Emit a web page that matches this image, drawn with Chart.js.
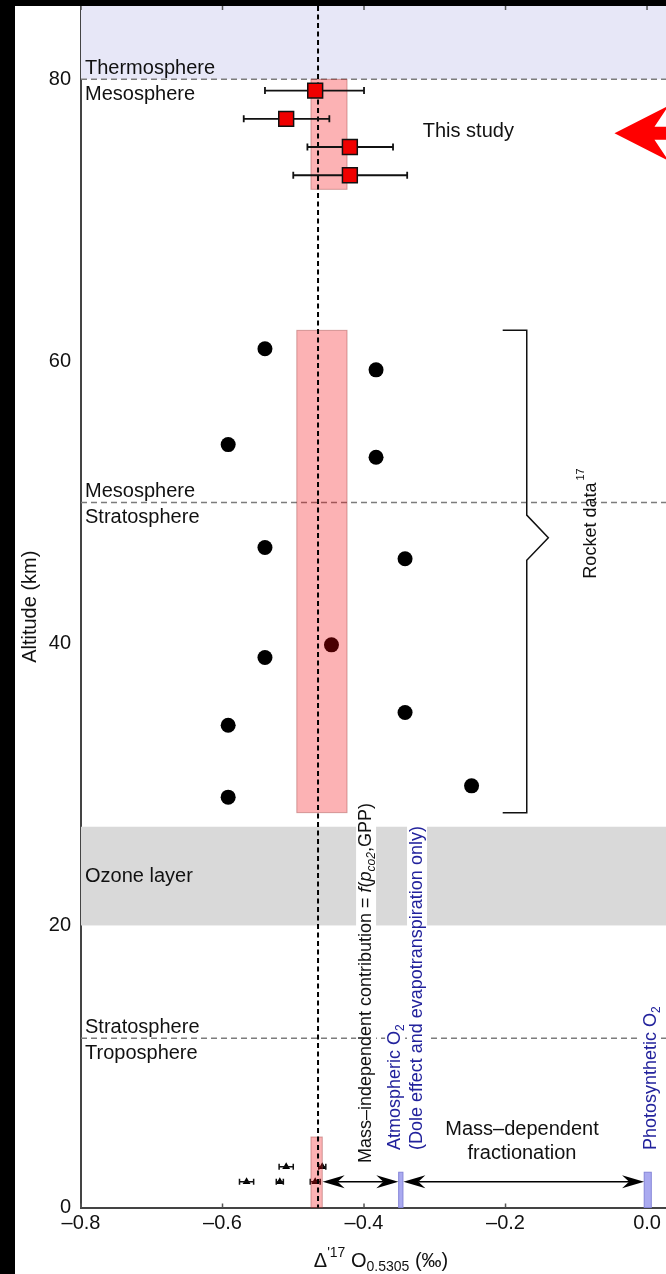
<!DOCTYPE html>
<html>
<head>
<meta charset="utf-8">
<script src="https://cdn.jsdelivr.net/npm/chart.js@4"></script>
<style>
  html, body { margin: 0; padding: 0; background: #000; width: 666px; height: 1274px; overflow: hidden; }
  #wrap { position: absolute; left: 15px; top: 6px; width: 651px; height: 1268px; background: #fff; }
  canvas { display: block; }
</style>
</head>
<body>
<div id="wrap"><canvas id="c" width="651" height="1268"></canvas></div>
<script>
const FONT = "'Liberation Sans', Arial, Helvetica, sans-serif";
Chart.defaults.font.family = FONT;
Chart.defaults.color = '#111';

// Axis ticks
const xTicks = [-0.8, -0.6, -0.4, -0.2, 0.0];
const yTicks = [0, 20, 40, 60, 80];

// Rocket samples (Δ'17O, altitude km)
const rocketDelta = [-0.540, -0.383, -0.592, -0.383, -0.540, -0.342, -0.446, -0.540, -0.342, -0.592, -0.248, -0.592];
const rocketAlt   = [60.9, 59.4, 54.1, 53.2, 46.8, 46.0, 39.9, 39.0, 35.1, 34.2, 29.9, 29.1];

// This study: mesospheric samples with 2σ ranges
const studyDelta = [-0.469, -0.510, -0.420, -0.420];
const studyAlt   = [79.2, 77.2, 75.2, 73.2];
const studyLow   = [-0.540, -0.570, -0.480, -0.500];
const studyHigh  = [-0.400, -0.449, -0.359, -0.339];

// Ground-level atmospheric O2 measurements
const groundDelta = [-0.566, -0.519, -0.510, -0.469, -0.459];
const groundAlt   = [1.83, 1.83, 2.89, 1.83, 2.89];
const groundErr   = [0.010, 0.005, 0.010, 0.007, 0.005];

// Atmospheric layers
const layerBounds = [80, 50, 12];
const layerAbove  = ['Thermosphere', 'Mesosphere', 'Stratosphere'];
const layerBelow  = ['Mesosphere', 'Stratosphere', 'Troposphere'];
const ozoneLayer  = [20, 27];

// Mean ranges of each data group
const studyBandX  = [-0.475, -0.424];
const studyBandY  = [72.2, 80];
const rocketBandX = [-0.495, -0.424];
const rocketBandY = [28.0, 62.2];
const groundBandX = [-0.475, -0.459];
const groundBandY = [0, 5];
const meanDelta   = -0.465;

// Reference end-members and fractionation ranges
const atmosBarX = [-0.351, -0.345];
const photoBarX = [-0.004, 0.006];
const refBarTop = 2.5;
const arrowAlt  = 1.83;
const mifArrow  = [-0.4585, -0.3515];
const mdfArrow  = [-0.3444, -0.0042];

const pts = (xs, ys) => xs.map((v, i) => ({ x: v, y: ys[i] }));

function runWidth(ctx, segs) {
  let w = 0;
  for (const s of segs) { ctx.font = s.font; w += ctx.measureText(s.t).width; }
  return w;
}
function drawRun(ctx, segs, x0, y0, color) {
  let x = x0;
  for (const s of segs) {
    ctx.font = s.font;
    ctx.fillStyle = s.color || color;
    ctx.fillText(s.t, x, y0 + (s.dy || 0));
    x += ctx.measureText(s.t).width;
  }
}
function vertLabel(ctx, segs, bx, by, color) {
  ctx.save();
  ctx.translate(bx, by);
  ctx.rotate(-Math.PI / 2);
  ctx.textAlign = 'left';
  ctx.textBaseline = 'alphabetic';
  const w = runWidth(ctx, segs);
  ctx.fillStyle = '#fff';
  ctx.fillRect(-2, -15, w + 4, 20);
  drawRun(ctx, segs, 0, 0, color);
  ctx.restore();
}
function stealthArrow(ctx, x0, x1, yy) {
  const L = 22, H = 6.5, N = 15;
  ctx.beginPath(); ctx.moveTo(x0 + N, yy); ctx.lineTo(x1 - N, yy); ctx.stroke();
  const head = (tx, dir) => {
    ctx.beginPath();
    ctx.moveTo(tx, yy);
    ctx.lineTo(tx + dir * L, yy - H);
    ctx.lineTo(tx + dir * N, yy);
    ctx.lineTo(tx + dir * L, yy + H);
    ctx.closePath();
    ctx.fill();
  };
  head(x0, 1); head(x1, -1);
}

const F = (px, style) => (style ? style + ' ' : '') + px + 'px ' + FONT;

const decor = {
  id: 'decor',
  beforeDatasetsDraw(chart) {
    const { ctx, chartArea: a, scales: { x, y } } = chart;
    const X = v => x.getPixelForValue(v), Y = v => y.getPixelForValue(v);
    ctx.save();
    // thermosphere shading
    ctx.fillStyle = '#e7e7f7';
    ctx.fillRect(a.left, a.top, a.right - a.left, Y(layerBounds[0]) - a.top);
    // ozone layer shading
    ctx.fillStyle = '#d9d9d9';
    ctx.fillRect(a.left, Y(ozoneLayer[1]), a.right - a.left, Y(ozoneLayer[0]) - Y(ozoneLayer[1]));
    // inward tick marks on the bottom and top frame
    ctx.strokeStyle = '#555'; ctx.lineWidth = 1.5;
    xTicks.forEach(v => {
      ctx.beginPath();
      ctx.moveTo(X(v), a.bottom); ctx.lineTo(X(v), a.bottom - 4);
      ctx.moveTo(X(v), a.top); ctx.lineTo(X(v), a.top + 4);
      ctx.stroke();
    });
    // layer boundaries
    ctx.strokeStyle = '#7c7c7c'; ctx.lineWidth = 1.5; ctx.setLineDash([6, 4]);
    layerBounds.forEach(b => { ctx.beginPath(); ctx.moveTo(a.left, Y(b)); ctx.lineTo(a.right, Y(b)); ctx.stroke(); });
    ctx.setLineDash([]);
    ctx.fillStyle = '#111'; ctx.font = F(20); ctx.textAlign = 'left'; ctx.textBaseline = 'alphabetic';
    layerBounds.forEach((b, i) => {
      ctx.fillText(layerAbove[i], a.left + 4, Y(b) - 5);
      ctx.fillText(layerBelow[i], a.left + 4, Y(b) + 21);
    });
    ctx.textBaseline = 'middle';
    ctx.fillText('Ozone layer', a.left + 4, Y((ozoneLayer[0] + ozoneLayer[1]) / 2));

    // vertical annotations
    vertLabel(ctx, [
      { t: 'Mass\u2013independent contribution = ', font: F(18) },
      { t: 'f', font: F(18, 'italic') },
      { t: '(', font: F(18) },
      { t: 'p', font: F(18, 'italic') },
      { t: 'co2', font: F(12, 'italic'), dy: 4 },
      { t: ',', font: F(18) },
      { t: 'GPP)', font: F(18) }
    ], X(-0.390), Y(3.15), '#111');
    vertLabel(ctx, [
      { t: 'Atmospheric O', font: F(18) },
      { t: '2', font: F(12), dy: 4 }
    ], X(-0.349), Y(4.08), '#22229c');
    vertLabel(ctx, [
      { t: '(Dole effect and evapotranspiration only)', font: F(18) }
    ], X(-0.318), Y(4.08), '#22229c');
    vertLabel(ctx, [
      { t: 'Photosynthetic O', font: F(18) },
      { t: '2', font: F(12), dy: 4 }
    ], X(0.0120), Y(4.08), '#22229c');
    ctx.restore();
  },
  afterDatasetDraw(chart, args) {
    if (args.index !== 1) return;
    const { ctx, chartArea: a, scales: { x, y } } = chart;
    const X = v => x.getPixelForValue(v), Y = v => y.getPixelForValue(v);
    ctx.save();
    // ground error bars
    ctx.strokeStyle = '#111'; ctx.lineWidth = 1.5;
    groundDelta.forEach((d, i) => {
      const yy = Y(groundAlt[i]), x0 = X(d - groundErr[i]), x1 = X(d + groundErr[i]);
      ctx.beginPath();
      ctx.moveTo(x0, yy); ctx.lineTo(x1, yy);
      ctx.moveTo(x0, yy - 3); ctx.lineTo(x0, yy + 3);
      ctx.moveTo(x1, yy - 3); ctx.lineTo(x1, yy + 3);
      ctx.stroke();
    });
    // mean ranges
    ctx.fillStyle = 'rgba(245, 0, 5, 0.3)';
    ctx.strokeStyle = 'rgba(160, 70, 70, 0.45)'; ctx.lineWidth = 1;
    [[studyBandX, studyBandY], [rocketBandX, rocketBandY], [groundBandX, groundBandY]].forEach(([bx, by]) => {
      const l = X(bx[0]), r = X(bx[1]), t = Y(by[1]), b = Y(by[0]);
      ctx.fillRect(l, t, r - l, b - t);
      ctx.strokeRect(l, t, r - l, b - t);
    });
    // mean value line
    ctx.strokeStyle = '#000'; ctx.lineWidth = 2; ctx.setLineDash([5, 3.5]);
    ctx.beginPath(); ctx.moveTo(X(meanDelta), a.top); ctx.lineTo(X(meanDelta), a.bottom); ctx.stroke();
    ctx.setLineDash([]);
    // error bars of this study
    ctx.strokeStyle = '#111'; ctx.lineWidth = 1.8;
    studyDelta.forEach((d, i) => {
      const yy = Y(studyAlt[i]), x0 = X(studyLow[i]), x1 = X(studyHigh[i]);
      ctx.beginPath();
      ctx.moveTo(x0, yy); ctx.lineTo(x1, yy);
      ctx.moveTo(x0, yy - 3.5); ctx.lineTo(x0, yy + 3.5);
      ctx.moveTo(x1, yy - 3.5); ctx.lineTo(x1, yy + 3.5);
      ctx.stroke();
    });
    ctx.restore();
  },
  afterDatasetsDraw(chart) {
    const { ctx, chartArea: a, scales: { x, y } } = chart;
    const X = v => x.getPixelForValue(v), Y = v => y.getPixelForValue(v);
    ctx.save();
    // end-member bars
    ctx.fillStyle = '#aaaaf0'; ctx.strokeStyle = '#8585d8'; ctx.lineWidth = 1;
    [atmosBarX, photoBarX].forEach(bx => {
      const l = X(bx[0]), r = X(bx[1]), t = Y(refBarTop), b = Y(0);
      ctx.fillRect(l, t, r - l, b - t);
      ctx.strokeRect(l, t, r - l, b - t);
    });
    // fractionation arrows
    ctx.strokeStyle = '#000'; ctx.fillStyle = '#000'; ctx.lineWidth = 1.5;
    stealthArrow(ctx, X(mifArrow[0]), X(mifArrow[1]), Y(arrowAlt));
    stealthArrow(ctx, X(mdfArrow[0]), X(mdfArrow[1]), Y(arrowAlt));

    ctx.fillStyle = '#111'; ctx.font = F(20); ctx.textAlign = 'center'; ctx.textBaseline = 'alphabetic';
    ctx.fillText('Mass\u2013dependent', X(-0.1767), Y(5.14));
    ctx.fillText('fractionation', X(-0.1767), Y(3.42));

    // this study label and pointer
    ctx.textAlign = 'left'; ctx.textBaseline = 'middle';
    ctx.fillText('This study', X(-0.317), Y(76.3));
    const tx = X(-0.046), ty = Y(76.17);
    ctx.fillStyle = '#ff0000';
    ctx.beginPath();
    ctx.moveTo(tx, ty);
    ctx.lineTo(tx + 54, ty - 27.5);
    ctx.lineTo(tx + 40, ty - 6.5);
    ctx.lineTo(tx + 150, ty - 6.5);
    ctx.lineTo(tx + 150, ty + 6.5);
    ctx.lineTo(tx + 40, ty + 6.5);
    ctx.lineTo(tx + 54, ty + 27.5);
    ctx.closePath();
    ctx.fill();

    // rocket data brace
    ctx.strokeStyle = '#111'; ctx.lineWidth = 1.5;
    ctx.beginPath();
    ctx.moveTo(X(-0.204), Y(62.2)); ctx.lineTo(X(-0.170), Y(62.2));
    ctx.lineTo(X(-0.170), Y(49.1)); ctx.lineTo(X(-0.1395), Y(47.5));
    ctx.lineTo(X(-0.170), Y(45.9)); ctx.lineTo(X(-0.170), Y(28.0));
    ctx.lineTo(X(-0.204), Y(28.0));
    ctx.stroke();
    ctx.save();
    ctx.translate(X(-0.0715), Y(48.0));
    ctx.rotate(-Math.PI / 2);
    ctx.fillStyle = '#111'; ctx.font = F(18); ctx.textAlign = 'center'; ctx.textBaseline = 'alphabetic';
    const rw = ctx.measureText('Rocket data').width;
    ctx.fillText('Rocket data', 0, 0);
    ctx.font = F(11); ctx.textAlign = 'left';
    ctx.fillText('17', rw / 2 + 2, -12);
    ctx.restore();

    // x-axis title
    const segs = [
      { t: '\u0394', font: F(20) },
      { t: "'17", font: F(14), dy: -10 },
      { t: ' O', font: F(20) },
      { t: '0.5305', font: F(14), dy: 4 },
      { t: ' (\u2030)', font: F(20) }
    ];
    ctx.textAlign = 'left'; ctx.textBaseline = 'alphabetic';
    const tw = runWidth(ctx, segs);
    drawRun(ctx, segs, a.left + 300 - tw / 2, a.bottom + 59, '#111');
    ctx.restore();
  }
};

new Chart(document.getElementById('c'), {
  type: 'scatter',
  data: {
    datasets: [
      { label: 'Rocket data', data: pts(rocketDelta, rocketAlt), pointStyle: 'circle', pointRadius: 7.5,
        backgroundColor: '#000', borderWidth: 0, order: 3 },
      { label: 'Ground level', data: pts(groundDelta, groundAlt), pointStyle: 'triangle', pointRadius: 4.5,
        backgroundColor: '#000', borderWidth: 0, order: 2 },
      { label: 'This study', data: pts(studyDelta, studyAlt), pointStyle: 'rect', pointRadius: 10.5,
        backgroundColor: '#f00000', borderColor: '#111', borderWidth: 1.5, order: 1 }
    ]
  },
  options: {
    responsive: false,
    animation: false,
    events: [],
    layout: { padding: 0, autoPadding: false },
    plugins: { legend: { display: false }, tooltip: { enabled: false } },
    scales: {
      x: {
        type: 'linear', min: -0.8, max: 0.0268,
        grid: { display: false, drawTicks: false },
        border: { display: true, color: '#444', width: 2 },
        ticks: { font: { size: 20 }, color: '#111', padding: 4,
          callback: v => (v < 0 ? '\u2013' : '') + Math.abs(v).toFixed(1) },
        afterBuildTicks: s => { s.ticks = xTicks.map(v => ({ value: v })); },
        afterFit: s => { s.height = 66.5; s.paddingLeft = 0; s.paddingRight = 0; }
      },
      y: {
        type: 'linear', min: 0, max: 85.2,
        grid: { display: false, drawTicks: false },
        border: { display: true, color: '#444', width: 2 },
        ticks: { font: { size: 20 }, color: '#111', padding: 10, callback: v => String(v) },
        title: { display: true, text: 'Altitude (km)', font: { size: 20 }, color: '#111', padding: { top: 3, bottom: 0 } },
        afterBuildTicks: s => { s.ticks = yTicks.map(v => ({ value: v })); },
        afterFit: s => { s.width = 66; s.paddingTop = 0; s.paddingBottom = 0; }
      }
    }
  },
  plugins: [decor]
});
</script>
</body>
</html>
